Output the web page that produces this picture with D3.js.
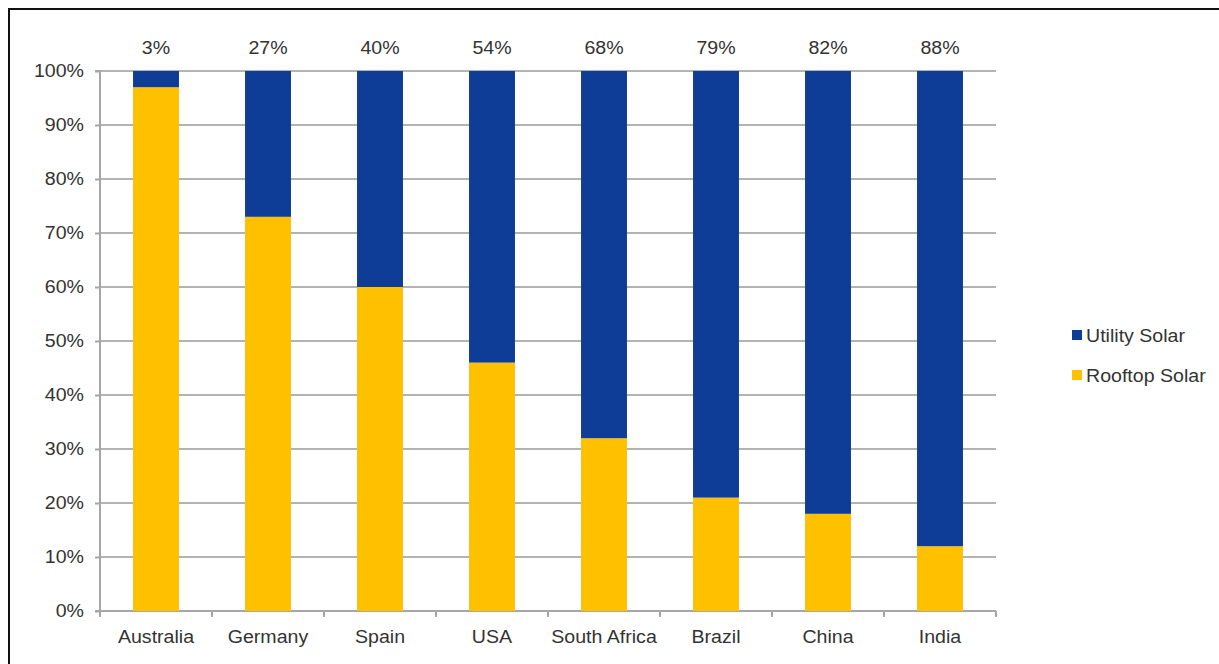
<!DOCTYPE html>
<html><head><meta charset="utf-8">
<script src="https://cdn.jsdelivr.net/npm/d3@7"></script>
<style>body{margin:0;background:#fff;} text{font-family:"Liberation Sans",Arial,sans-serif;}</style>
</head><body>
<svg id="c" width="1219" height="664"></svg>
<script>
const categories = ["Australia","Germany","Spain","USA","South Africa","Brazil","China","India"];
const rooftop = [97,73,60,46,32,21,18,12];
const utility = [3,27,40,54,68,79,82,88];
const topLabels = ["3%","27%","40%","54%","68%","79%","82%","88%"];
const yTicks = [0,10,20,30,40,50,60,70,80,90,100];
const seriesNames = ["Utility Solar","Rooftop Solar"];
const colors = {"Utility Solar":"#0d3d96","Rooftop Solar":"#ffc000"};

const FS = 17.5, SX = 1.12, TXT = "#333333";
function label(g, x, y, anchor, str){
  return g.append("text").attr("transform",`translate(${x},${y}) scale(${SX},1)`)
    .attr("text-anchor",anchor).attr("font-size",FS).attr("fill",TXT).text(str);
}

const svg = d3.select("#c");
svg.append("rect").attr("x",9).attr("y",9).attr("width",1230).attr("height",680)
  .attr("fill","none").attr("stroke","#111").attr("stroke-width",2);

const L=100,R=996,T=71,B=611;
const x = d3.scaleBand().domain(categories).range([L,R]).paddingInner(0.59).paddingOuter(0.295);
const xb = d3.scaleBand().domain(categories).range([L,R]);
const y = d3.scaleLinear().domain([0,100]).range([B,T]);

// gridlines
svg.append("g").selectAll("line").data(yTicks.filter(d=>d>0)).join("line")
  .attr("x1",L).attr("x2",R).attr("y1",d=>y(d)).attr("y2",d=>y(d))
  .attr("stroke","#b3b3b3").attr("stroke-width",2);

// y axis
const ya = svg.append("g").attr("transform",`translate(${L},0)`)
  .call(d3.axisLeft(y).tickValues(yTicks).tickFormat("").tickSize(5));
ya.select(".domain").attr("stroke","#a6a6a6").attr("stroke-width",2).attr("d",`M-5,${T}H0V${B}H-5`);
ya.selectAll(".tick line").attr("stroke","#a6a6a6").attr("stroke-width",2);
const yl = svg.append("g");
yTicks.forEach(t=>label(yl, 84, y(t)+6, "end", t+"%"));

// x axis
const xa = svg.append("g").attr("transform",`translate(0,${B})`);
xa.append("line").attr("x1",L).attr("x2",R).attr("stroke","#a6a6a6").attr("stroke-width",2);
const bounds = categories.map(c=>xb(c)).concat([R]);
xa.selectAll("line.tk").data(bounds).join("line").attr("class","tk")
  .attr("x1",d=>d).attr("x2",d=>d).attr("y1",0).attr("y2",6).attr("stroke","#a6a6a6").attr("stroke-width",2);
categories.forEach(c=>label(xa, x(c)+x.bandwidth()/2, 32, "middle", c));

// bars
const data = categories.map((c,i)=>({cat:c,"Rooftop Solar":rooftop[i],"Utility Solar":utility[i]}));
const stack = d3.stack().keys(["Rooftop Solar","Utility Solar"])(data);
svg.append("g").selectAll("g").data(stack).join("g").attr("fill",d=>colors[d.key])
  .selectAll("rect").data(d=>d).join("rect")
  .attr("x",d=>x(d.data.cat)).attr("width",x.bandwidth())
  .attr("y",d=>y(d[1])).attr("height",d=>y(d[0])-y(d[1]));

// top labels
const tl = svg.append("g");
categories.forEach((c,i)=>label(tl, x(c)+x.bandwidth()/2, 54, "middle", topLabels[i]));

// legend
const lg = svg.append("g");
seriesNames.forEach((s,i)=>{
  const yy = 330 + i*40;
  lg.append("rect").attr("x",1072).attr("y",yy).attr("width",10).attr("height",10).attr("fill",colors[s]);
  label(lg, 1086, yy+12, "start", s);
});
</script>
</body></html>
